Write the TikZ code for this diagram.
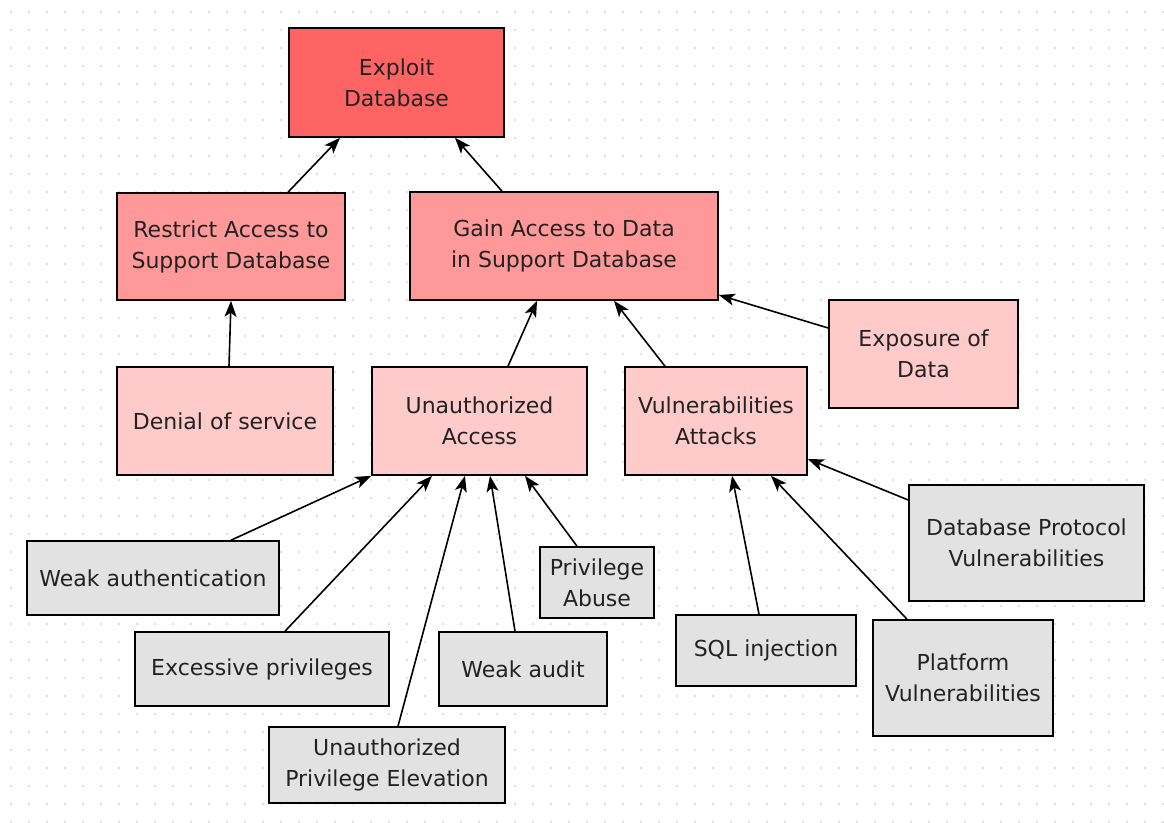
\documentclass[tikz,border=0pt]{standalone}
\usepackage{fontspec}
\setmainfont{DejaVu Sans}
\usetikzlibrary{arrows.meta}
\definecolor{goalred}{HTML}{FF6464}
\definecolor{subred}{HTML}{FF9898}
\definecolor{leafpink}{HTML}{FFCACA}
\definecolor{leafgray}{HTML}{E2E2E2}
\definecolor{dotgray}{HTML}{BDBDBD}
\definecolor{txt}{HTML}{222222}
\begin{document}
\begin{tikzpicture}[x=1pt,y=-1pt,
  box/.style={draw=black,line width=1.6pt,align=center,text=txt,
    font=\fontsize{22}{31}\selectfont,inner sep=0pt},
  goal/.style={box,fill=goalred},
  sub/.style={box,fill=subred},
  mid/.style={box,fill=leafpink},
  leaf/.style={box,fill=leafgray},
  arr/.style={line width=1.6pt,-{Stealth[length=16pt,width=12pt,inset=4pt]}}]
\useasboundingbox (0,0) rectangle (1164,822);
\fill[white] (0,0) rectangle (1164,822);
% dotted canvas grid
\foreach \gx in {0,...,64}{
  \foreach \gy in {0,...,45}{
    \fill[dotgray] (11+18*\gx,12+18*\gy) circle (0.9pt);
  }
}
% goal and sub-goals
\node[goal,minimum width=215pt,minimum height=109pt] (exploit) at (396.5,82.5) {Exploit\\Database};
\node[sub,minimum width=228pt,minimum height=107pt] (restrict) at (231,246.5) {Restrict Access to\\Support Database};
\node[sub,minimum width=308pt,minimum height=108pt] (gain) at (564,246) {Gain Access to Data\\in Support Database};
% threats
\node[mid,minimum width=189pt,minimum height=108pt] (exposure) at (923.5,354) {Exposure of\\Data};
\node[mid,minimum width=216pt,minimum height=108pt] (denial) at (225,421) {Denial of service};
\node[mid,minimum width=215pt,minimum height=108pt] (unauth) at (479.5,421) {Unauthorized\\Access};
\node[mid,minimum width=182pt,minimum height=108pt] (vuln) at (716,421) {Vulnerabilities\\Attacks};
% causes
\node[leaf,minimum width=252pt,minimum height=74pt] (weakauth) at (153,578) {Weak authentication};
\node[leaf,minimum width=254pt,minimum height=74pt] (excessive) at (262,669) {Excessive privileges};
\node[leaf,minimum width=114pt,minimum height=71pt] (abuse) at (597,582.5) {Privilege\\Abuse};
\node[leaf,minimum width=168pt,minimum height=74pt] (weakaudit) at (523,669) {Weak audit};
\node[leaf,minimum width=236pt,minimum height=76pt] (upe) at (387,765) {Unauthorized\\Privilege Elevation};
\node[leaf,minimum width=180pt,minimum height=71pt] (sql) at (766,650.5) {SQL injection};
\node[leaf,minimum width=180pt,minimum height=116pt] (platform) at (963,678) {Platform\\Vulnerabilities};
\node[leaf,minimum width=235pt,minimum height=116pt] (dbproto) at (1026.5,543) {Database Protocol\\Vulnerabilities};
% connectors
\draw[arr] ([xshift=57pt]restrict.north) -- ([xshift=-56.5pt]exploit.south);
\draw[arr] ([xshift=-62pt]gain.north) -- ([xshift=58.5pt]exploit.south);
\draw[arr] ([xshift=4pt]denial.north) -- (restrict.south);
\draw[arr] ([xshift=28.5pt]unauth.north) -- ([xshift=-27pt]gain.south);
\draw[arr] ([xshift=-51pt]vuln.north) -- ([xshift=50pt]gain.south);
\draw[arr] ([yshift=26pt]exposure.west) -- ([yshift=-49pt]gain.east);
\draw[arr] ([xshift=78pt]weakauth.north) -- (unauth.south west);
\draw[arr] ([xshift=23pt]excessive.north) -- ([xshift=-47.5pt]unauth.south);
\draw[arr] ([xshift=11pt]upe.north) -- ([xshift=-14.5pt]unauth.south);
\draw[arr] ([xshift=-8pt]weakaudit.north) -- ([xshift=10.5pt]unauth.south);
\draw[arr] ([xshift=-20pt]abuse.north) -- ([xshift=45.5pt]unauth.south);
\draw[arr] ([xshift=-7pt]sql.north) -- ([xshift=16pt]vuln.south);
\draw[arr] ([xshift=-56pt]platform.north) -- ([xshift=55pt]vuln.south);
\draw[arr] ([yshift=43pt]dbproto.west) -- ([yshift=-38pt]vuln.east);
\end{tikzpicture}
\end{document}
